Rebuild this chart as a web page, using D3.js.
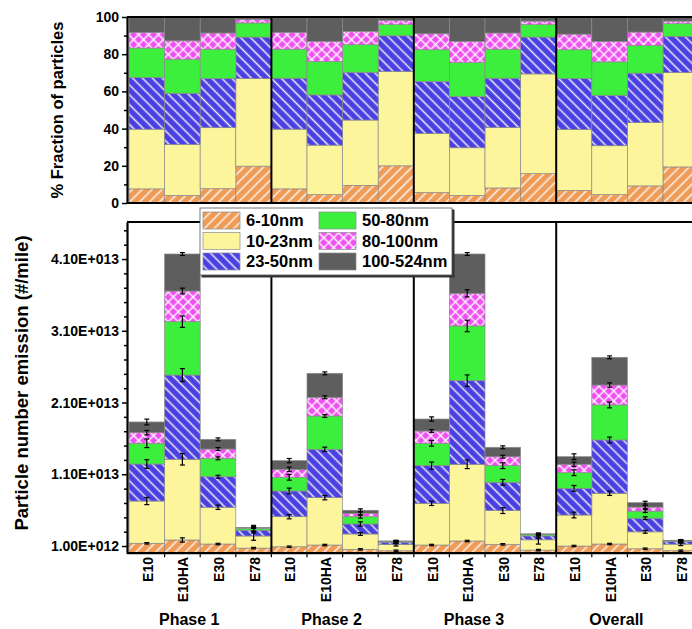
<!DOCTYPE html>
<html>
<head>
<meta charset="utf-8">
<script src="https://cdn.jsdelivr.net/npm/d3@7"></script>
<style>
  html, body { margin: 0; padding: 0; background: #fff; }
  svg { display: block; font-family: "Liberation Sans", Arial, Helvetica, sans-serif; }
</style>
</head>
<body>
<svg id="chart" width="692" height="629"></svg>
<script>
// ---- data -------------------------------------------------------------
const phases = ["Phase 1", "Phase 2", "Phase 3", "Overall"];
const fuels = ["E10", "E10HA", "E30", "E78"];
const sizeBins = ["6-10nm", "10-23nm", "23-50nm", "50-80nm", "80-100nm", "100-524nm"];

// Particle number emission (#/mile) per size bin, 16 bars (phase x fuel)
const em_6_10    = [1.38e12, 1.84e12, 1.28e12, 0.71e12, 0.90e12, 1.14e12, 0.54e12, 0.34e12, 1.14e12, 1.70e12, 1.24e12, 0.43e12, 1.00e12, 1.28e12, 0.62e12, 0.35e12];
const em_10_23   = [5.89e12, 11.25e12, 5.12e12, 1.69e12, 4.19e12, 6.60e12, 2.14e12, 0.86e12, 5.81e12, 10.69e12, 4.69e12, 1.44e12, 4.32e12, 7.07e12, 2.36e12, 0.91e12];
const em_23_50   = [5.16e12, 11.74e12, 4.26e12, 0.81e12, 3.58e12, 6.74e12, 1.39e12, 0.33e12, 5.25e12, 11.66e12, 3.95e12, 0.54e12, 3.72e12, 7.43e12, 1.90e12, 0.35e12];
const em_50_80   = [2.89e12, 7.44e12, 2.56e12, 0.27e12, 1.91e12, 4.64e12, 1.02e12, 0.10e12, 3.12e12, 7.62e12, 2.32e12, 0.18e12, 2.18e12, 4.88e12, 0.99e12, 0.13e12];
const em_80_100  = [1.48e12, 4.27e12, 1.30e12, 0.07e12, 1.11e12, 2.61e12, 0.47e12, 0.04e12, 1.71e12, 4.55e12, 1.25e12, 0.05e12, 1.17e12, 2.78e12, 0.56e12, 0.02e12];
const em_100_524 = [1.49e12, 5.16e12, 1.35e12, 0.05e12, 1.21e12, 3.34e12, 0.42e12, 0.03e12, 1.67e12, 5.48e12, 1.31e12, 0.06e12, 1.06e12, 3.86e12, 0.61e12, 0.04e12];

// Standard errors (#/mile)
const err_6_10    = [0.1e12, 0.3e12, 0.1e12, 0.1e12, 0.1e12, 0.1e12, 0.1e12, 0.1e12, 0.1e12, 0.1e12, 0.1e12, 0.1e12, 0.1e12, 0.1e12, 0.1e12, 0.1e12];
const err_10_23   = [0.5e12, 0.8e12, 0.3e12, 0.6e12, 0.3e12, 0.3e12, 0.2e12, 0.2e12, 0.3e12, 0.6e12, 0.4e12, 0.6e12, 0.4e12, 0.3e12, 0.2e12, 0.2e12];
const err_23_50   = [0.6e12, 0.9e12, 0.2e12, 0.4e12, 0.4e12, 0.3e12, 0.3e12, 0.2e12, 0.5e12, 0.8e12, 0.4e12, 0.3e12, 0.4e12, 0.4e12, 0.2e12, 0.2e12];
const err_50_80   = [0.6e12, 0.8e12, 0.2e12, 0.4e12, 0.4e12, 0.2e12, 0.2e12, 0.1e12, 0.4e12, 0.8e12, 0.4e12, 0.2e12, 0.4e12, 0.4e12, 0.2e12, 0.1e12];
const err_80_100  = [0.3e12, 0.4e12, 0.2e12, 0.1e12, 0.3e12, 0.2e12, 0.2e12, 0.1e12, 0.2e12, 0.5e12, 0.2e12, 0.1e12, 0.3e12, 0.3e12, 0.2e12, 0.1e12];
const err_100_524 = [0.4e12, 0.2e12, 0.2e12, 0.1e12, 0.3e12, 0.2e12, 0.2e12, 0.1e12, 0.3e12, 0.2e12, 0.2e12, 0.1e12, 0.4e12, 0.2e12, 0.2e12, 0.1e12];

// Fraction of particles (%) per size bin
const pct_6_10    = [7.6, 4.1, 7.7, 19.8, 7.6, 4.5, 9.5, 20.0, 5.6, 4.1, 8.1, 15.8, 6.8, 4.5, 9.2, 19.4];
const pct_10_23   = [32.1, 27.4, 32.8, 47.1, 32.1, 26.6, 35.1, 50.7, 31.8, 25.6, 32.5, 53.6, 32.8, 26.3, 34.0, 50.7];
const pct_23_50   = [27.7, 27.5, 26.4, 22.3, 27.4, 27.0, 25.7, 19.2, 27.9, 27.5, 26.5, 19.8, 27.3, 27.1, 26.6, 19.5];
const pct_50_80   = [15.9, 18.3, 15.8, 7.6, 15.6, 18.0, 14.8, 6.0, 17.1, 18.3, 15.6, 6.7, 15.5, 18.0, 14.9, 6.8];
const pct_80_100  = [8.4, 9.9, 8.7, 2.0, 9.0, 10.8, 7.2, 2.3, 8.6, 11.4, 8.7, 1.9, 8.4, 11.0, 7.2, 1.4];
const pct_100_524 = [8.3, 12.8, 8.6, 1.2, 8.3, 13.1, 7.7, 1.8, 9.0, 13.1, 8.6, 2.2, 9.2, 13.1, 8.1, 2.2];

const fracTicks = [0, 20, 40, 60, 80, 100];
const emisTicks = [1.0e12, 1.1e13, 2.1e13, 3.1e13, 4.1e13];

// ---- styling ----------------------------------------------------------
const fills = ["#ef9b56", "#fdf59c", "#4a3fe0", "#3cef3c", "#ef4ef0", "#5e5e5e"];
const hatch = ["fwd", null, "back", null, "cross", null];

const emis = [em_6_10, em_10_23, em_23_50, em_50_80, em_80_100, em_100_524];
const errs = [err_6_10, err_10_23, err_23_50, err_50_80, err_80_100, err_100_524];
const pcts = [pct_6_10, pct_10_23, pct_23_50, pct_50_80, pct_80_100, pct_100_524];

const bars = d3.range(phases.length * fuels.length).map(i => ({
  i, phase: phases[Math.floor(i / fuels.length)], fuel: fuels[i % fuels.length]
}));
const rowsEm = bars.map(b => { const r = { i: b.i }; sizeBins.forEach((k, j) => r[k] = emis[j][b.i]); return r; });
const rowsPc = bars.map(b => { const r = { i: b.i }; sizeBins.forEach((k, j) => r[k] = pcts[j][b.i]); return r; });
const stack = d3.stack().keys(sizeBins);
const serEm = stack(rowsEm);
const serPc = stack(rowsPc);

const svg = d3.select("#chart");
const defs = svg.append("defs");

function makePattern(id, base, kind) {
  const p = defs.append("pattern").attr("id", id)
    .attr("patternUnits", "userSpaceOnUse").attr("width", 7).attr("height", 7);
  if (kind === "fwd") p.attr("patternTransform", "rotate(45)");
  if (kind === "back") p.attr("patternTransform", "rotate(-45)");
  if (kind === "cross") p.attr("patternTransform", "rotate(45)");
  p.append("rect").attr("width", 7).attr("height", 7).attr("fill", base);
  p.append("line").attr("x1", 3.5).attr("x2", 3.5).attr("y1", 0).attr("y2", 7)
    .attr("stroke", "#fff").attr("stroke-width", 1.5).attr("stroke-opacity", 0.9);
  if (kind === "cross") {
    p.append("line").attr("x1", 0).attr("x2", 7).attr("y1", 3.5).attr("y2", 3.5)
      .attr("stroke", "#fff").attr("stroke-width", 1.5).attr("stroke-opacity", 0.9);
  }
}
const fillFor = sizeBins.map((k, j) => {
  if (!hatch[j]) return fills[j];
  makePattern("pat" + j, fills[j], hatch[j]);
  return "url(#pat" + j + ")";
});

// ---- scales -----------------------------------------------------------
const plotL = 127;
const x = d3.scaleBand().domain(bars.map(b => b.i)).range([129, 698.6]).padding(0);
const bw = x.bandwidth();
const yTop = d3.scaleLinear().domain([0, 100]).range([203, 17]);
const yBot = d3.scaleLinear().domain([0, 4.616e13]).range([553.2, 222]);

const sciFmt = v => {
  const e = Math.floor(Math.log10(v));
  const m = v / Math.pow(10, e);
  return m.toFixed(2) + "E+" + String(e).padStart(3, "0");
};

// ---- top panel: fractions --------------------------------------------
const gTop = svg.append("g");
gTop.selectAll("g.layer").data(serPc).join("g").attr("class", "layer")
  .attr("fill", (d, j) => fillFor[j])
  .selectAll("rect").data(d => d).join("rect")
  .attr("x", d => x(d.data.i)).attr("width", bw)
  .attr("y", d => yTop(d[1])).attr("height", d => yTop(d[0]) - yTop(d[1]))
  .attr("stroke", "#8a8a8a").attr("stroke-width", 0.7);

// frame + phase separators
const frameTop = svg.append("g").attr("stroke", "#000").attr("fill", "none");
frameTop.append("line").attr("x1", plotL).attr("x2", 692).attr("y1", yTop(100)).attr("y2", yTop(100)).attr("stroke-width", 2);
frameTop.append("line").attr("x1", plotL).attr("x2", 692).attr("y1", yTop(0)).attr("y2", yTop(0)).attr("stroke-width", 2);
phases.forEach((p, g) => {
  if (g === 0) return;
  const xs = x(g * fuels.length);
  frameTop.append("line").attr("x1", xs).attr("x2", xs).attr("y1", yTop(100)).attr("y2", yTop(0)).attr("stroke-width", 2);
});

const axTop = svg.append("g").attr("transform", `translate(${plotL},0)`)
  .call(d3.axisLeft(yTop).tickValues(fracTicks).tickSize(5).tickSizeOuter(0).tickPadding(3));
svg.append("g").attr("transform", `translate(${plotL},0)`)
  .call(d3.axisLeft(yTop).tickValues([10, 30, 50, 70, 90]).tickSize(3).tickFormat("").tickSizeOuter(0))
  .select(".domain").remove();

svg.append("text")
  .attr("transform", `translate(63,110) rotate(-90)`)
  .attr("text-anchor", "middle")
  .attr("font-size", 16.5).attr("font-weight", "bold")
  .text("% Fraction of particles");

// ---- bottom panel: emissions -----------------------------------------
const gBot = svg.append("g");
gBot.selectAll("g.layer").data(serEm).join("g").attr("class", "layer")
  .attr("fill", (d, j) => fillFor[j])
  .selectAll("rect").data(d => d).join("rect")
  .attr("x", d => x(d.data.i)).attr("width", bw)
  .attr("y", d => yBot(d[1])).attr("height", d => yBot(d[0]) - yBot(d[1]))
  .attr("stroke", "#8a8a8a").attr("stroke-width", 0.7);

// error bars at the top of every stacked segment
const errData = [];
serEm.forEach((s, j) => s.forEach(d => errData.push({ i: d.data.i, top: d[1], e: errs[j][d.data.i] })));
const gErr = svg.append("g").attr("stroke", "#000").attr("stroke-width", 1.2);
errData.forEach(d => {
  const cx = x(d.i) + bw / 2;
  const y1 = yBot(d.top + d.e), y2 = yBot(d.top - d.e);
  gErr.append("line").attr("x1", cx).attr("x2", cx).attr("y1", y1).attr("y2", y2);
  gErr.append("line").attr("x1", cx - 2.5).attr("x2", cx + 2.5).attr("y1", y1).attr("y2", y1);
  gErr.append("line").attr("x1", cx - 2.5).attr("x2", cx + 2.5).attr("y1", y2).attr("y2", y2);
});

const frameBot = svg.append("g").attr("stroke", "#000").attr("fill", "none");
frameBot.append("line").attr("x1", plotL).attr("x2", 692).attr("y1", yBot.range()[1]).attr("y2", yBot.range()[1]).attr("stroke-width", 2);
frameBot.append("line").attr("x1", plotL).attr("x2", 692).attr("y1", yBot(0)).attr("y2", yBot(0)).attr("stroke-width", 2.2);
phases.forEach((p, g) => {
  if (g === 0) return;
  const xs = x(g * fuels.length);
  frameBot.append("line").attr("x1", xs).attr("x2", xs).attr("y1", yBot.range()[1]).attr("y2", yBot(0)).attr("stroke-width", 2);
});
// x ticks at bar boundaries
bars.forEach(b => {
  if (b.i === 0) return;
  frameBot.append("line").attr("x1", x(b.i)).attr("x2", x(b.i)).attr("y1", yBot(0)).attr("y2", yBot(0) + 4).attr("stroke-width", 1.2);
});

const minorEm = d3.range(3e12, 4.6e13, 2e12).filter(v => !emisTicks.some(t => Math.abs(t - v) < 1e9));
svg.append("g").attr("transform", `translate(${plotL},0)`)
  .call(d3.axisLeft(yBot).tickValues(emisTicks).tickSize(5).tickSizeOuter(0).tickPadding(3).tickFormat(sciFmt));
svg.append("g").attr("transform", `translate(${plotL},0)`)
  .call(d3.axisLeft(yBot).tickValues(minorEm).tickSize(3).tickFormat("").tickSizeOuter(0))
  .select(".domain").remove();

svg.selectAll(".tick text").attr("font-size", 14).attr("font-weight", "bold").attr("fill", "#000")
  .attr("font-family", '"Liberation Sans", Arial, sans-serif');
svg.selectAll(".tick line").attr("stroke", "#000").attr("stroke-width", 1.5);
svg.selectAll(".domain").attr("stroke", "#000").attr("stroke-width", 2.2);

svg.append("text")
  .attr("transform", `translate(28,383) rotate(-90)`)
  .attr("text-anchor", "middle")
  .attr("font-size", 18.5).attr("font-weight", "bold")
  .text("Particle number emission (#/mile)");

// category labels
svg.append("g").selectAll("text").data(bars).join("text")
  .attr("transform", b => `translate(${x(b.i) + bw / 2 + 1},557) rotate(-90)`)
  .attr("text-anchor", "end").attr("dy", "0.36em")
  .attr("font-size", 14).attr("font-weight", "bold")
  .text(b => b.fuel);

svg.append("g").selectAll("text").data(phases).join("text")
  .attr("x", (p, g) => x(g * fuels.length) + 2 * bw - 11)
  .attr("y", 625)
  .attr("text-anchor", "middle")
  .attr("font-size", 16).attr("font-weight", "bold")
  .text(p => p);

// ---- legend -----------------------------------------------------------
const lg = svg.append("g").attr("transform", "translate(200,208)");
lg.append("rect").attr("x", 1.5).attr("y", 1.5).attr("width", 253).attr("height", 68).attr("fill", "#333");
lg.append("rect").attr("width", 252).attr("height", 67).attr("fill", "#fff").attr("stroke", "#555").attr("stroke-width", 0.8);
sizeBins.forEach((k, j) => {
  const col = Math.floor(j / 3), row = j % 3;
  const gx = 3 + col * 116, gy = 4 + row * 20.5;
  lg.append("rect").attr("x", gx).attr("y", gy).attr("width", 37).attr("height", 17)
    .attr("fill", fillFor[j]).attr("stroke", "#8a8a8a").attr("stroke-width", 0.7);
  lg.append("text").attr("x", gx + 43).attr("y", gy + 8.5).attr("dy", "0.36em")
    .attr("font-size", 16.5).attr("font-weight", "bold").text(k);
});
</script>
</body>
</html>
